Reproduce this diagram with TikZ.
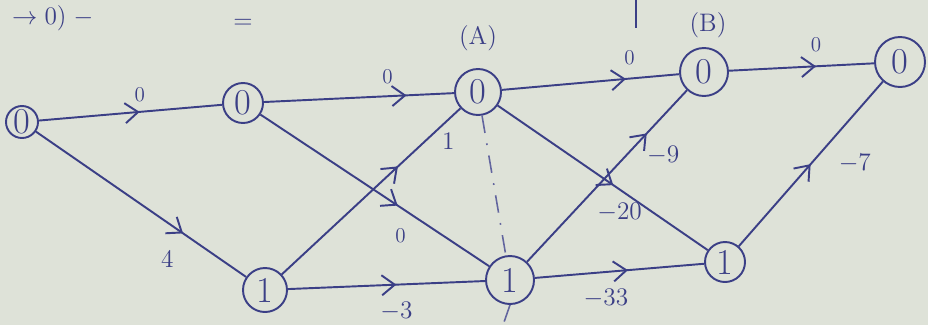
\documentclass[tikz,border=0pt]{standalone}
\usepackage{xcolor}
\usepackage{tikz}
\usetikzlibrary{arrows.meta,decorations.markings}
\definecolor{inkblue}{HTML}{3B3F86}
\definecolor{paper}{HTML}{DEE2D8}

\begin{document}
\begin{tikzpicture}[
  x=0.02cm, y=-0.02cm,
  state/.style={circle, draw=inkblue, line width=1.1pt, inner sep=0pt,
    minimum size=#1*0.02cm, text=inkblue, font=\huge},
  state/.default=42,
  weight/.style={text=inkblue, font=\Large},
  zero/.style={text=inkblue, font=\large},
  edge/.style={draw=inkblue, line width=1.1pt, postaction={decorate},
    decoration={markings, mark=at position #1 with
      {\arrow{Straight Barb[length=2.6mm,width=4mm]}}}},
  edge/.default=0.6,
  guide/.style={draw=inkblue!80, line width=0.9pt, dash pattern=on 10pt off 6pt on 1pt off 6pt}
]
\fill[paper] (0,0) rectangle (928,325);
\useasboundingbox (0,0) rectangle (928,325);

\node[state=32] (s) at (22,122) {0};
\node[state=40] (u) at (243,103) {0};
\node[state=44] (v) at (265,290) {1};
\node[state=46] (a) at (478,92) {0};
\node[state=48] (w) at (510,280) {1};
\node[state=48] (b) at (704,72) {0};
\node[state=40] (x) at (725,262) {1};
\node[state=50] (t) at (900,62) {0};

\node[weight] (alab) at (478,38) {(A)};
\node[weight] (blab) at (708,25) {(B)};

\draw[edge=0.55] (s) -- node[zero, pos=0.55, above=2pt] {0} (u);
\draw[edge=0.7] (s) -- node[weight, pos=0.72, below left=4pt] {4} (v);
\draw[edge=0.75] (u) -- node[zero, pos=0.65, above=3pt] {0} (a);
\draw[edge=0.6] (u) -- node[zero, pos=0.68, below left=2pt] {0} (w);
\draw[edge=0.65] (v) -- node[weight, pos=0.8, right=6pt] {1} (a);
\draw[edge=0.55] (v) -- node[weight, pos=0.55, below=6pt] {$-3$} (w);
\draw[edge=0.7] (a) -- node[zero, pos=0.72, above=4pt] {0} (b);
\draw[edge=0.55] (a) -- node[weight, pos=0.58, below=4pt] {$-20$} (x);
\draw[edge=0.75] (w) -- node[weight, pos=0.62, right=8pt] {$-9$} (b);
\draw[edge=0.55] (w) -- node[weight, pos=0.42, below=6pt] {$-33$} (x);
\draw[edge=0.6] (b) -- node[zero, pos=0.6, above=4pt] {0} (t);
\draw[edge=0.5] (x) -- node[weight, pos=0.5, right=12pt] {$-7$} (t);

\coordinate (cut) at (503,325);
\draw[guide] (a) -- (w);
\draw[guide] (w.south) -- (cut);

\coordinate (tick) at (636,0);
\node[weight, anchor=west] (frag) at (6,18) {$\rightarrow0)\;-$};
\node[weight] (eq) at (243,24) {$=$};
\draw[inkblue, line width=1.1pt] (tick) -- ++(0,28);
\end{tikzpicture}
\end{document}
